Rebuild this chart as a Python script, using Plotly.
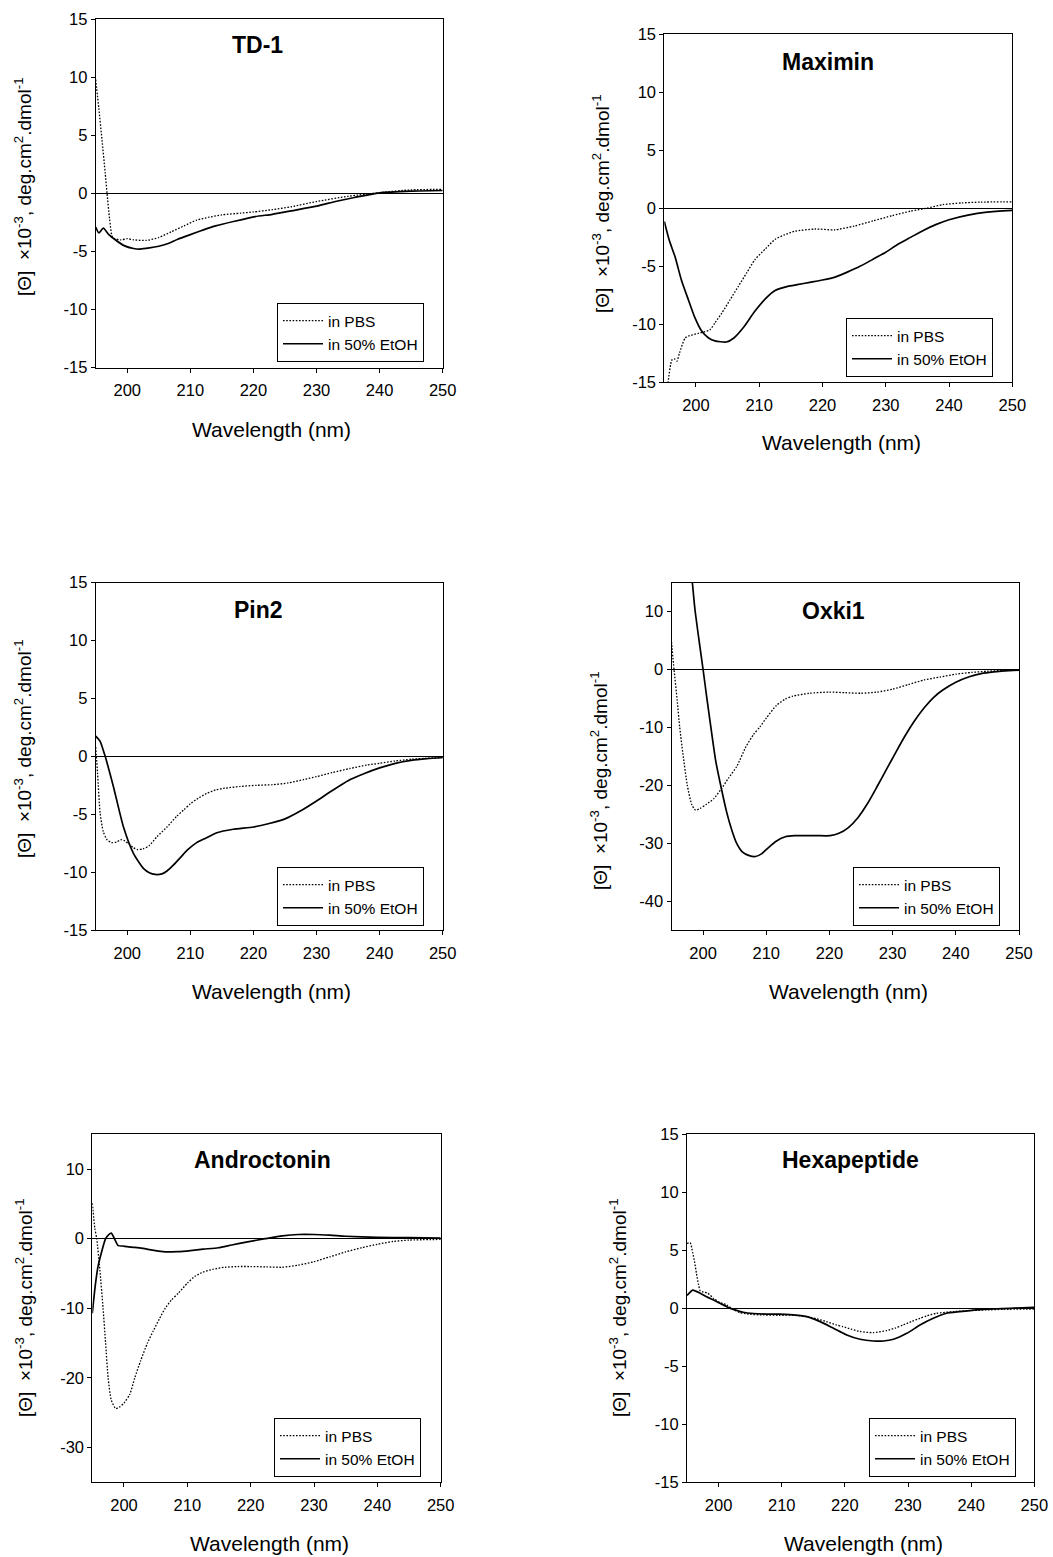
import plotly.graph_objects as go

# ---------------- CD spectra: mean residue ellipticity (x10^-3) vs wavelength ----------------
# TD-1
td1_pbs_wl = [195, 195.5, 196, 196.5, 196.8, 197.2, 197.6, 198, 199, 200, 201, 203, 205, 207, 209,
              211, 213, 215, 218, 220, 223, 226, 230, 235, 240, 245, 250]
td1_pbs = [9.8, 7.3, 4.6, 1.8, 0.0, -2.2, -3.7, -3.9, -4.0, -3.9, -4.0, -4.05, -3.8, -3.3, -2.8,
           -2.3, -2.05, -1.85, -1.7, -1.6, -1.4, -1.15, -0.7, -0.25, 0.07, 0.3, 0.35]
td1_etoh_wl = [195, 195.5, 196.2, 197, 198.2, 199.5, 201, 202, 203.5, 205, 206.6, 208, 210, 211.8,
               214, 217, 220.3, 223, 226, 230, 233, 236, 240, 245, 250]
td1_etoh = [-2.9, -3.4, -3.0, -3.5, -4.04, -4.5, -4.75, -4.8, -4.7, -4.55, -4.3, -3.95, -3.55, -3.2,
            -2.8, -2.4, -2.0, -1.8, -1.5, -1.1, -0.7, -0.35, 0.05, 0.2, 0.25]

# Maximin
max_pbs_wl = [195.3, 195.6, 196.2, 196.6, 197.0, 197.4, 198.3, 199, 200.4, 202.2, 203, 204.1, 205.4,
              206.7, 208, 209.3, 211, 212.5, 214, 215.6, 218.8, 221.9, 225, 228, 231, 234, 236.5,
              239, 242, 245, 250]
max_pbs = [-17, -15, -13.1, -13.0, -13.2, -12.5, -11.2, -11.0, -10.8, -10.5, -9.9, -9.05, -7.9,
           -6.75, -5.6, -4.46, -3.5, -2.7, -2.3, -2.0, -1.8, -1.87, -1.55, -1.1, -0.65, -0.25, 0.0,
           0.3, 0.45, 0.52, 0.55]
max_etoh_wl = [195, 195.8, 196.7, 197.7, 198.8, 199.8, 200.9, 202, 203, 204.8, 206, 207.5, 209.3,
               211, 212.5, 214.5, 216, 218, 220, 222, 224, 226, 228, 230, 232, 234, 236, 238, 240,
               243, 246, 250]
max_etoh = [-1.15, -2.8, -4.2, -6.2, -7.9, -9.4, -10.6, -11.2, -11.45, -11.55, -11.2, -10.3, -8.9,
            -7.8, -7.1, -6.75, -6.6, -6.4, -6.2, -5.95, -5.5, -5.0, -4.4, -3.8, -3.1, -2.5, -1.9,
            -1.4, -1.0, -0.6, -0.35, -0.2]

# Pin2
pin_pbs_wl = [195, 195.3, 195.7, 196.2, 196.8, 197.5, 198.3, 199, 199.6, 200.3, 201, 201.6, 202.5,
              203.5, 204.7, 206.3, 207.8, 209, 210, 211.3, 212.6, 214, 215.5, 217.9, 220.5, 223,
              225.5, 228, 230, 232.5, 235.3, 238, 240, 242.5, 245, 250]
pin_pbs = [0.8, -1.5, -4.9, -6.5, -7.2, -7.45, -7.4, -7.2, -7.3, -7.6, -7.9, -8.05, -8.0, -7.7,
           -6.95, -6.1, -5.2, -4.6, -4.1, -3.6, -3.2, -2.9, -2.75, -2.6, -2.5, -2.45, -2.3, -2.0,
           -1.75, -1.4, -1.05, -0.75, -0.6, -0.4, -0.25, -0.1]
pin_etoh_wl = [195, 195.7, 196.5, 197.8, 199.4, 201, 202.6, 203.5, 204.4, 205.5, 206.3, 207.3,
               208.5, 209.5, 211, 212.5, 214.2, 216.8, 220, 222.5, 225, 227.5, 230, 232.5, 235,
               237.5, 240, 242.5, 245, 247.5, 250]
pin_etoh = [1.75, 1.3, 0.0, -2.6, -6.1, -8.4, -9.7, -10.05, -10.2, -10.15, -9.9, -9.4, -8.7, -8.1,
            -7.45, -7.05, -6.6, -6.3, -6.1, -5.8, -5.4, -4.7, -3.85, -2.95, -2.1, -1.5, -1.0, -0.6,
            -0.35, -0.2, -0.1]

# Oxki1
oxk_pbs_wl = [195, 195.4, 195.9, 196.3, 196.8, 197.5, 198.2, 198.8, 199.5, 200.5, 201.7, 202.9, 204,
              205.3, 206.8, 208, 209, 210, 211.6, 213, 214.2, 216.8, 220, 222.5, 225, 227.5, 230,
              232.5, 235, 237.5, 240, 242.5, 245, 247.5, 250]
oxk_pbs = [4.8, 0.0, -5.3, -10, -14.5, -20, -23.3, -24.3, -24.0, -23.3, -22.3, -20.6, -18.8, -16.8,
           -13.3, -11.2, -9.9, -8.4, -6.2, -5.1, -4.6, -4.1, -3.9, -4.0, -4.1, -3.9, -3.4, -2.6,
           -1.8, -1.3, -0.8, -0.5, -0.3, -0.15, -0.1]
oxk_etoh_wl = [197.8, 198.3, 198.7, 199.3, 200, 200.6, 201.3, 202, 202.9, 203.7, 204.5, 205.3,
               206.2, 207.2, 208.3, 209.3, 210.3, 211.5, 213, 214.5, 216, 218, 220.1, 221.5, 223,
               224.5, 226, 227.5, 229, 230.5, 232, 233.5, 235, 236.5, 238, 240, 242, 244, 246, 250]
oxk_etoh = [19.5, 15, 10.5, 5.5, 0, -5, -10.5, -15.8, -20.6, -24.5, -27.6, -30, -31.5, -32.1, -32.3,
            -31.8, -30.8, -29.7, -28.9, -28.7, -28.7, -28.7, -28.7, -28.3, -27.3, -25.6, -23.2,
            -20.3, -17.3, -14.3, -11.4, -8.8, -6.6, -4.8, -3.5, -2.2, -1.3, -0.7, -0.4, -0.1]

# Androctonin
and_pbs_wl = [195, 195.4, 195.7, 196.2, 196.7, 197.1, 197.5, 198, 198.7, 199.3, 200, 200.9, 201.7,
              202.6, 203.7, 204.6, 205.6, 206.5, 207.5, 208.6, 210, 211.2, 212.5, 214, 216, 218,
              220, 222.5, 225, 227.5, 230, 232.5, 235, 237.5, 240, 242.5, 245, 250]
and_pbs = [5.1, 1.5, 0, -4.5, -10, -15, -20, -23.2, -24.4, -24.2, -23.6, -22.4, -20, -17.6, -15,
           -13.3, -11.5, -10, -8.8, -7.8, -6.4, -5.4, -4.8, -4.4, -4.1, -4.0, -4.0, -4.05, -4.1,
           -3.8, -3.3, -2.6, -1.9, -1.3, -0.8, -0.4, -0.2, -0.1]
and_etoh_wl = [195, 195.5, 195.9, 196.5, 197.1, 197.6, 198.0, 198.5, 199.1, 199.8, 200.5, 201.7,
               203, 204.5, 206.5, 208.5, 210.5, 212.5, 214.9, 217, 219.5, 222.3, 225, 227.5, 230,
               232.5, 235, 240, 245, 250]
and_etoh = [-10.7, -6.5, -4.0, -1.8, 0.0, 0.6, 0.8, 0.0, -1.0, -1.05, -1.15, -1.25, -1.4, -1.65,
            -1.9, -1.85, -1.7, -1.5, -1.3, -0.9, -0.45, 0.0, 0.4, 0.6, 0.6, 0.5, 0.35, 0.2, 0.15,
            0.1]

# Hexapeptide
hex_pbs_wl = [195, 195.5, 195.9, 196.2, 196.5, 196.8, 197.1, 197.6, 198.3, 199.2, 200.2, 200.7,
              201.3, 202.3, 203.4, 205, 207.1, 209.6, 211.8, 213.9, 215.5, 217.1, 218.6, 219.7,
              221, 222.4, 224.5, 226.6, 228, 229.2, 230.5, 231.9, 233, 234.5, 237.2, 239.8, 242.4,
              245.1, 250]
hex_pbs = [5.6, 5.65, 4.8, 4.0, 3.0, 2.1, 1.5, 1.4, 1.3, 0.86, 0.5, 0.4, 0.29, -0.1, -0.37, -0.52,
           -0.57, -0.6, -0.6, -0.72, -0.9, -1.15, -1.43, -1.58, -1.8, -2.0, -2.1, -1.93, -1.7,
           -1.44, -1.15, -0.86, -0.65, -0.43, -0.29, -0.2, -0.14, -0.09, -0.06]
hex_etoh_wl = [195, 195.9, 197.1, 198.1, 199.2, 200.2, 201.3, 201.8, 202.3, 203.9, 205.5, 207.6,
               209.6, 211.8, 213.3, 214.5, 216.1, 218.2, 220.3, 222.4, 224.5, 226.1, 227.7, 229.8,
               231.9, 234, 236.1, 238.2, 240.9, 243.5, 246.1, 250]
hex_etoh = [1.1, 1.57, 1.3, 1.0, 0.72, 0.43, 0.14, 0.0, -0.09, -0.34, -0.45, -0.5, -0.5, -0.57,
            -0.66, -0.8, -1.15, -1.72, -2.3, -2.67, -2.82, -2.82, -2.67, -2.16, -1.44, -0.86,
            -0.43, -0.29, -0.14, -0.06, 0.0, 0.09]

peptides = ["TD-1", "Maximin", "Pin2", "Oxki1", "Androctonin", "Hexapeptide"]
series = [
    (td1_pbs_wl, td1_pbs, td1_etoh_wl, td1_etoh),
    (max_pbs_wl, max_pbs, max_etoh_wl, max_etoh),
    (pin_pbs_wl, pin_pbs, pin_etoh_wl, pin_etoh),
    (oxk_pbs_wl, oxk_pbs, oxk_etoh_wl, oxk_etoh),
    (and_pbs_wl, and_pbs, and_etoh_wl, and_etoh),
    (hex_pbs_wl, hex_pbs, hex_etoh_wl, hex_etoh),
]
y_ranges = [(-15, 15), (-15, 15), (-15, 15), (-45, 15), (-35, 15), (-15, 15)]
y_ticks = [[-15, -10, -5, 0, 5, 10, 15]] * 3 + [[-40, -30, -20, -10, 0, 10],
                                               [-30, -20, -10, 0, 10],
                                               [-15, -10, -5, 0, 5, 10, 15]]
x_ticks = [200, 210, 220, 230, 240, 250]
legend_names = ["in PBS", "in 50% EtOH"]
y_title = "[\u0398]\u00a0\u00a0\u00d710<sup>-3</sup>, deg.cm<sup>2</sup>.dmol<sup>-1</sup>"
x_title = "Wavelength (nm)"

# ---------------- page layout (pixels) ----------------
W, H = 1053, 1557
FONT = "Liberation Sans, Arial, Helvetica, sans-serif"

# plot boxes: left, right, top, bottom
boxes = [
    (95.7, 442.7, 19.3, 367.5),
    (664.3, 1012.3, 34.3, 382.0),
    (95.7, 442.7, 582.7, 930.0),
    (671.5, 1019.0, 582.7, 930.0),
    (92.3, 440.7, 1134.3, 1482.3),
    (687.0, 1034.3, 1134.3, 1482.3),
]
title_pos = [(257, 45), (828, 62), (258, 610), (833, 611), (262, 1160), (850, 1160)]
ytitle_pos = [(23, 187), (601, 204), (23, 749), (599, 781), (24, 1308), (618, 1308)]
xtitle_pos = [(271, 430), (841, 442), (271, 992), (848, 992), (269, 1543), (863, 1543)]
legend_pos = [(277, 303), (846, 318), (277, 867), (853, 867), (274, 1418), (869, 1418)]


def px(x):
    return x / W


def py(y):
    return 1 - y / H


def tick_text(vals):
    return [str(v) for v in vals]


fig = go.Figure()
layout = dict(
    width=W, height=H, autosize=False,
    margin=dict(l=0, r=0, t=0, b=0, autoexpand=False),
    paper_bgcolor="white", plot_bgcolor="white",
    font=dict(family=FONT, color="black"),
    annotations=[],
)

for i, (name, (wl_a, v_a, wl_b, v_b)) in enumerate(zip(peptides, series)):
    k = "" if i == 0 else str(i + 1)
    xa, ya = "x" + k, "y" + k
    leg = "legend" + k
    l, r, t, b = boxes[i]

    fig.add_trace(go.Scatter(
        x=wl_a, y=v_a, mode="lines", name=legend_names[0], xaxis=xa, yaxis=ya, legend=leg,
        line=dict(color="black", width=1.3, dash="1.6px,1.6px", shape="spline", smoothing=0.6),
    ))
    fig.add_trace(go.Scatter(
        x=wl_b, y=v_b, mode="lines", name=legend_names[1], xaxis=xa, yaxis=ya, legend=leg,
        line=dict(color="black", width=1.7, shape="spline", smoothing=0.6),
    ))

    layout["xaxis" + k] = dict(
        domain=[px(l), px(r)], anchor=ya, range=[195, 250], automargin=False,
        tickvals=x_ticks, ticktext=tick_text(x_ticks),
        ticks="outside", ticklen=4, tickwidth=1, tickcolor="black", ticklabelstandoff=4,
        showline=True, linecolor="black", linewidth=1, mirror=True,
        showgrid=False, zeroline=False,
        tickfont=dict(family=FONT, size=16.5, color="black"),
    )
    layout["yaxis" + k] = dict(
        domain=[py(b), py(t)], anchor=xa, range=list(y_ranges[i]), automargin=False,
        tickvals=y_ticks[i], ticktext=tick_text(y_ticks[i]),
        ticks="outside", ticklen=4, tickwidth=1, tickcolor="black",
        showline=True, linecolor="black", linewidth=1, mirror=True,
        showgrid=False, zeroline=True, zerolinecolor="black", zerolinewidth=1,
        tickfont=dict(family=FONT, size=16.5, color="black"),
    )

    lx, ly = legend_pos[i]
    layout[leg] = dict(
        x=px(lx), y=py(ly), xanchor="left", yanchor="top",
        bordercolor="black", borderwidth=1, bgcolor="white",
        font=dict(family=FONT, size=15.5, color="black"),
        tracegroupgap=0, itemwidth=40,
    )

    tx, ty = title_pos[i]
    layout["annotations"].append(dict(
        text="<b>%s</b>" % name, x=px(tx), y=py(ty), xref="paper", yref="paper",
        xanchor="center", yanchor="middle", showarrow=False,
        font=dict(family=FONT, size=23, color="black"),
    ))
    yx, yy = ytitle_pos[i]
    layout["annotations"].append(dict(
        text=y_title, x=px(yx), y=py(yy), xref="paper", yref="paper", textangle=-90,
        xanchor="center", yanchor="middle", showarrow=False,
        font=dict(family=FONT, size=19, color="black"),
    ))
    xx, xy = xtitle_pos[i]
    layout["annotations"].append(dict(
        text=x_title, x=px(xx), y=py(xy), xref="paper", yref="paper",
        xanchor="center", yanchor="middle", showarrow=False,
        font=dict(family=FONT, size=21, color="black"),
    ))

fig.update_layout(**layout)
fig.write_html("out.html")
